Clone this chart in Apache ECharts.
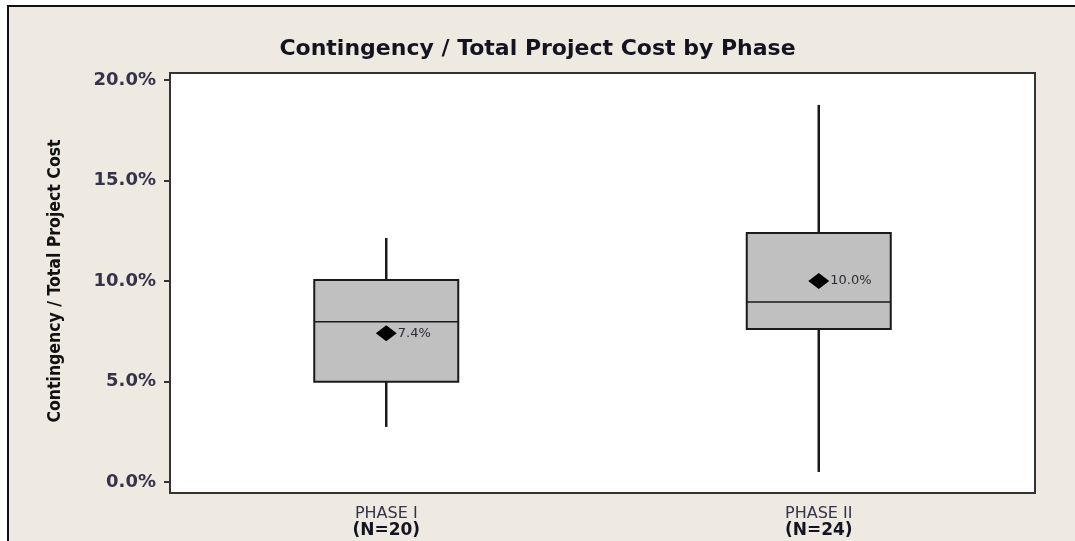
<!DOCTYPE html>
<html>
<head>
<meta charset="utf-8">
<script src="https://cdn.jsdelivr.net/npm/echarts@6/dist/echarts.min.js"></script>
<style>
  html, body { margin: 0; padding: 0; background: #ffffff; }
  #main { width: 1075px; height: 541px; }
</style>
</head>
<body>
<div id="main"></div>
<script>
// phases and sample sizes
const phases = ["PHASE I", "PHASE II"];
const sampleSizes = [20, 24];

// box plot stats (percent): [min, Q1, median, Q3, max]
const phase1Box = [2.74, 4.99, 7.97, 10.05, 12.14];
const phase2Box = [0.5, 7.61, 8.96, 12.39, 18.76];

// means shown as diamonds
const means = [7.4, 10.0];

const yTicks = [0, 5, 10, 15, 20];

const chart = echarts.init(document.getElementById("main"));

const bg = "#eeeae1";
const textCol = "#35324a";

// minitab-style box: no caps on the whiskers
function renderBox(params, api) {
  const i = api.value(0);
  const lo = api.coord([i, api.value(1)]);
  const q1 = api.coord([i, api.value(2)]);
  const med = api.coord([i, api.value(3)]);
  const q3 = api.coord([i, api.value(4)]);
  const hi = api.coord([i, api.value(5)]);
  const half = 72;
  const x = lo[0];
  const line = { stroke: "#1a1a1a", lineWidth: 2.5 };
  return {
    type: "group",
    children: [
      { type: "line", shape: { x1: x, y1: hi[1], x2: x, y2: q3[1] }, style: line },
      { type: "line", shape: { x1: x, y1: q1[1], x2: x, y2: lo[1] }, style: line },
      {
        type: "rect",
        shape: { x: x - half, y: q3[1], width: half * 2, height: q1[1] - q3[1] },
        style: { fill: "#c0c0c0", stroke: "#1a1a1a", lineWidth: 2 }
      },
      { type: "line", shape: { x1: x - half, y1: med[1], x2: x + half, y2: med[1] }, style: { stroke: "#1a1a1a", lineWidth: 1.5 } }
    ]
  };
}

const boxData = [phase1Box, phase2Box].map((b, i) => [i].concat(b));

const option = {
  backgroundColor: "#ffffff",
  animation: false,
  graphic: [
    {
      type: "rect",
      z: -10,
      shape: { x: 8, y: 6, width: 1100, height: 600 },
      style: { fill: bg, stroke: "#111111", lineWidth: 2 }
    },
    {
      type: "rect",
      z: -5,
      shape: { x: 170, y: 73, width: 865, height: 420 },
      style: { fill: "#ffffff", stroke: "#333333", lineWidth: 2 }
    }
  ],
  title: {
    text: "Contingency / Total Project Cost by Phase",
    left: "center",
    top: 33,
    textStyle: {
      fontFamily: "DejaVu Sans",
      fontWeight: "bold",
      fontSize: 22,
      color: "#141420"
    }
  },
  grid: {
    left: 170,
    right: 40,
    top: 80,
    bottom: 59
  },
  xAxis: {
    type: "category",
    data: phases,
    offset: 11,
    axisLine: { show: false },
    axisTick: {
      alignWithLabel: true,
      length: 4,
      lineStyle: { color: "#333333", width: 2 }
    },
    axisLabel: {
      margin: 12,
      formatter: function (v, i) {
        return "{a|" + v + "}\n{b|(N=" + sampleSizes[i] + ")}";
      },
      rich: {
        a: { fontFamily: "DejaVu Sans", fontSize: 16, color: textCol, lineHeight: 17 },
        b: { fontFamily: "DejaVu Sans", fontSize: 17, fontWeight: "bold", color: "#141420", lineHeight: 17 }
      }
    }
  },
  yAxis: {
    type: "value",
    min: yTicks[0],
    max: yTicks[yTicks.length - 1],
    interval: 5,
    name: "Contingency / Total Project Cost",
    nameLocation: "middle",
    nameGap: 106,
    nameTextStyle: {
      fontFamily: "DejaVu Sans Condensed, Liberation Sans Narrow, DejaVu Sans",
      fontWeight: "bold",
      fontSize: 17.5,
      color: "#111111"
    },
    axisLine: { show: false },
    axisTick: {
      show: true,
      length: 6,
      lineStyle: { color: "#333333", width: 2 }
    },
    splitLine: { show: false },
    axisLabel: {
      margin: 14,
      fontFamily: "DejaVu Sans",
      fontWeight: "bold",
      fontSize: 18,
      color: textCol,
      formatter: function (v) { return v.toFixed(1) + "%"; }
    }
  },
  series: [
    {
      type: "custom",
      renderItem: renderBox,
      data: boxData,
      encode: { x: 0, y: [1, 2, 3, 4, 5] },
      z: 2
    },
    {
      type: "scatter",
      data: means,
      symbol: "diamond",
      symbolSize: [21, 16],
      itemStyle: { color: "#000000", opacity: 1 },
      z: 5,
      label: {
        show: true,
        position: "right",
        distance: 1,
        fontFamily: "DejaVu Sans",
        fontSize: 13,
        color: "#2a2a33",
        formatter: function (p) { return p.value.toFixed(1) + "%"; }
      }
    }
  ]
};

chart.setOption(option);
</script>
</body>
</html>
